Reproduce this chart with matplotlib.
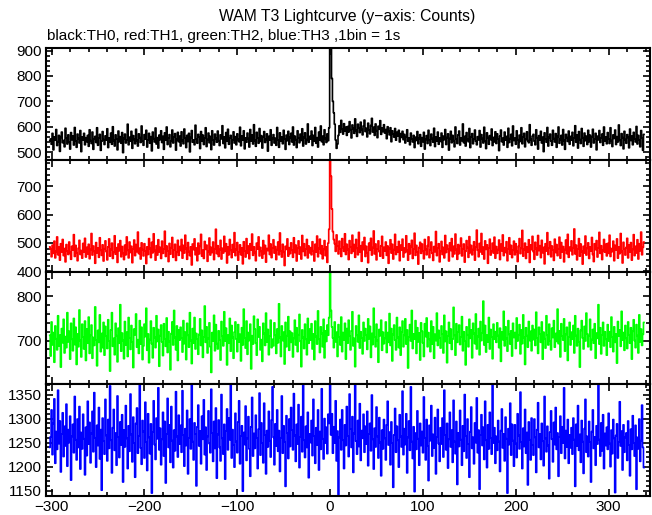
import numpy as np
import matplotlib
matplotlib.use("Agg")
import matplotlib.pyplot as plt
from matplotlib.ticker import MultipleLocator

# time bins (1 s), t = -302 .. 338
t_start, t_stop = -302, 339

# TH0 counts (black)
th0 = [
    544,
    552, 531, 574, 509, 560, 547, 589, 526, 541, 566, 503, 558, 579, 537, 546, 521, 594, 555, 532, 568,
    540, 512, 577, 549, 563, 528, 597, 544, 519, 571, 553, 536, 585, 502, 560, 548, 574, 529, 557, 541,
    566, 523, 588, 545, 534, 579, 511, 551, 562, 538, 596, 527, 555, 570, 507, 543, 581, 549, 530, 564,
    547, 592, 518, 556, 539, 575, 531, 600, 546, 524, 568, 552, 509, 583, 541, 561, 535, 577, 498, 554,
    571, 536, 548, 610, 529, 559, 543, 582, 515, 565, 550, 533, 590, 546, 524, 572, 557, 538, 603, 544,
    527, 569, 551, 586, 520, 548, 574, 535, 561, 505, 579, 553, 540, 595, 532, 557, 516, 567, 549, 584,
    538, 562, 511, 576, 547, 599, 530, 555, 569, 521, 544, 587, 536, 559, 573, 508, 550, 578, 541, 563,
    524, 580, 546, 533, 591, 555, 518, 566, 542, 574, 501, 557, 585, 539, 548, 529, 606, 552, 535, 570,
    559, 514, 581, 543, 567, 530, 556, 596, 522, 549, 575, 537, 562, 510, 584, 547, 528, 571, 554, 539,
    583, 545, 526, 568, 552, 604, 534, 560, 517, 577, 543, 590, 531, 555, 566, 512, 548, 580, 536, 561,
    529, 572, 550, 541, 598, 525, 563, 547, 584, 513, 556, 539, 575, 553, 520, 589, 544, 567, 532, 608,
    546, 523, 578, 556, 535, 593, 542, 565, 516, 559, 581, 538, 550, 572, 504, 562, 547, 588, 527, 554,
    569, 536, 555, 527, 597, 548, 519, 576, 543, 560, 533, 586, 551, 511, 567, 545, 582, 530, 558, 574,
    540, 599, 528, 563, 549, 518, 584, 555, 537, 571, 546, 592, 524, 558, 576, 532, 549, 611, 539, 562,
    551, 583, 526, 566, 543, 597, 535, 557, 520, 579, 548, 603, 541, 563, 529, 588, 554, 538, 572, 545,
    596, 1020, 960, 790, 700, 655, 610, 548, 515, 532, 566, 604, 578, 625, 590, 571, 612, 583, 598, 566,
    601, 579, 620, 588, 556, 607, 593, 574, 631, 585, 562, 610, 596, 577, 618, 589, 568, 603, 626, 581,
    594, 560, 614, 587, 572, 605, 633, 579, 598, 566, 611, 584, 557, 602, 590, 624, 570, 595, 581, 608,
    575, 589, 553, 600, 582, 568, 596, 541, 584, 571, 559, 593, 547, 578, 564, 586, 540, 573, 558, 582,
    549, 570, 536, 561, 588, 543, 556, 529, 575, 552, 540, 566, 518, 559, 546, 581, 533, 554, 569, 523,
    557, 541, 578, 512, 550, 565, 534, 586, 547, 526, 571, 553, 539, 594, 522, 560, 544, 579, 531, 556,
    542, 575, 519, 563, 549, 589, 530, 557, 572, 508, 553, 582, 537, 566, 545, 521, 599, 551, 534, 568,
    583, 528, 556, 545, 611, 537, 562, 524, 577, 550, 541, 593, 518, 560, 573, 533, 552, 587, 543, 529,
    561, 548, 585, 520, 569, 553, 536, 598, 544, 514, 576, 557, 531, 565, 549, 591, 526, 558, 540, 580,
    534, 572, 551, 506, 563, 587, 541, 555, 528, 579, 547, 562, 519, 594, 538, 553, 570, 525, 603, 546,
    555, 531, 584, 549, 517, 567, 542, 596, 533, 560, 574, 521, 552, 580, 545, 537, 608, 550, 527, 563,
    570, 543, 529, 588, 556, 512, 565, 548, 582, 536, 559, 502, 576, 551, 539, 597, 524, 558, 571, 544,
    527, 586, 553, 540, 573, 519, 561, 599, 535, 550, 566, 528, 589, 546, 511, 570, 557, 542, 583, 531,
    562, 547, 578, 525, 555, 604, 539, 568, 516, 581, 549, 534, 593, 557, 523, 575, 545, 563, 530, 586,
    541, 567, 520, 559, 590, 536, 552, 574, 509, 563, 548, 585, 538, 556, 571, 527, 599, 544, 560, 533,
    577, 551, 534, 596, 545, 522, 568, 554, 587, 530, 561, 540, 607, 548, 526, 573, 557, 513, 582, 549,
    535, 569, 558, 517, 591, 546, 563, 529, 578, 552, 540, 601, 532, 566, 548, 521, 585, 556, 507, 570,
]

# TH1 counts (red)
th1 = [
    486,
    478, 451, 492, 463, 506, 447, 470, 521, 458, 485, 439, 497, 468, 512, 455, 480, 433, 494, 471, 459,
    503, 466, 442, 488, 475, 529, 452, 491, 464, 437, 481, 509, 459, 473, 446, 498, 467, 516, 450, 484,
    461, 495, 444, 476, 533, 457, 489, 470, 428, 501, 465, 482, 449, 518, 474, 456, 493, 436, 479, 507,
    469, 440, 486, 514, 453, 477, 499, 445, 468, 525, 460, 483, 431, 496, 472, 508, 451, 487, 463, 441,
    492, 458, 521, 474, 447, 503, 466, 488, 430, 479, 510, 455, 494, 469, 538, 462, 481, 443, 500, 476,
    454, 497, 471, 427, 486, 459, 515, 480, 448, 502, 465, 532, 473, 439, 490, 457, 511, 468, 484, 445,
    506, 463, 478, 541, 452, 489, 471, 434, 498, 460, 483, 519, 449, 475, 495, 438, 467, 509, 456, 487,
    473, 512, 446, 491, 464, 527, 480, 442, 501, 469, 455, 486, 422, 496, 476, 514, 458, 482, 437, 499,
    461, 488, 530, 453, 474, 445, 505, 477, 492, 435, 470, 517, 457, 484, 466, 503, 441, 479, 548, 462,
    490, 452, 476, 509, 443, 481, 464, 523, 470, 497, 429, 485, 458, 512, 474, 448, 494, 467, 536, 455,
    477, 501, 439, 468, 493, 458, 482, 426, 504, 472, 450, 515, 463, 489, 444, 497, 475, 531, 456, 486,
    466, 437, 499, 478, 521, 454, 484, 470, 446, 508, 462, 491, 432, 480, 473, 527, 459, 496, 448, 482,
    511, 464, 487, 441, 476, 503, 458, 535, 471, 450, 495, 467, 420, 488, 477, 514, 453, 483, 462, 500,
    474, 449, 518, 466, 492, 436, 481, 507, 460, 485, 443, 526, 470, 497, 455, 478, 512, 447, 489, 465,
    483, 458, 504, 472, 436, 495, 468, 524, 451, 480, 513, 462, 490, 444, 477, 508, 455, 486, 431, 499,
    548, 900, 735, 620, 540, 512, 497, 470, 528, 489, 461, 506, 478, 452, 515, 484, 470, 532, 459, 495,
    477, 441, 508, 486, 463, 527, 470, 494, 449, 512, 481, 458, 537, 467, 490, 435, 503, 476, 519, 452,
    488, 465, 430, 499, 474, 516, 457, 483, 542, 461, 496, 440, 478, 507, 469, 453, 490, 523, 446, 484,
    471, 503, 456, 489, 428, 480, 511, 464, 495, 443, 476, 530, 459, 486, 467, 505, 437, 492, 474, 513,
    450, 482, 466, 525, 473, 439, 497, 461, 487, 509, 445, 478, 534, 456, 491, 468, 425, 484, 502, 463,
    496, 471, 444, 512, 477, 458, 490, 521, 448, 475, 503, 463, 438, 487, 469, 540, 455, 481, 497, 433,
    470, 505, 459, 484, 447, 526, 466, 492, 478, 436, 500, 473, 515, 451, 488, 461, 531, 476, 442, 494,
    462, 489, 517, 454, 479, 496, 432, 470, 508, 483, 449, 522, 465, 491, 458, 476, 504, 439, 486, 545,
    474, 451, 498, 468, 533, 460, 485, 443, 507, 477, 493, 428, 482, 513, 457, 470, 499, 464, 520, 446,
    487, 463, 476, 510, 441, 495, 472, 528, 455, 483, 466, 504, 437, 479, 518, 460, 491, 448, 474, 506,
    458, 497, 470, 434, 488, 515, 462, 481, 544, 453, 477, 499, 445, 486, 467, 511, 431, 493, 476, 523,
    469, 442, 502, 480, 457, 526, 473, 490, 448, 509, 465, 484, 426, 497, 471, 536, 459, 482, 504, 451,
    489, 475, 438, 513, 466, 494, 455, 479, 520, 446, 501, 468, 487, 433, 476, 510, 462, 530, 449, 485,
    472, 507, 458, 483, 549, 461, 492, 440, 478, 515, 453, 496, 470, 425, 488, 464, 524, 457, 481, 500,
    445, 486, 471, 519, 459, 434, 497, 476, 508, 450, 482, 537, 463, 490, 441, 473, 512, 467, 495, 454,
    498, 463, 527, 452, 480, 469, 506, 437, 491, 475, 514, 446, 485, 462, 533, 470, 429, 502, 478, 457,
    484, 516, 447, 493, 468, 501, 439, 477, 529, 455, 488, 464, 511, 443, 497, 472, 538, 458, 484, 503,
]

# TH2 counts (green)
th2 = [
    712,
    665, 742, 690, 718, 651, 733, 704, 679, 756, 688, 712, 640, 727, 695, 748, 672, 709, 684, 763, 697,
    721, 658, 739, 703, 677, 750, 691, 730, 646, 715, 686, 769, 700, 663, 737, 708, 681, 744, 655, 726,
    694, 753, 671, 712, 735, 660, 707, 689, 776, 701, 643, 723, 696, 758, 675, 716, 684, 741, 667, 732,
    710, 682, 747, 699, 631, 724, 763, 687, 705, 668, 739, 711, 652, 728, 694, 781, 676, 717, 700, 659,
    743, 690, 719, 664, 752, 706, 680, 734, 697, 639, 726, 713, 760, 685, 702, 671, 745, 692, 730, 657,
    688, 737, 709, 773, 678, 715, 650, 702, 744, 693, 661, 729, 707, 684, 756, 698, 725, 642, 711, 735,
    697, 666, 738, 704, 687, 751, 673, 720, 698, 634, 716, 742, 690, 768, 707, 679, 733, 655, 724, 701,
    730, 706, 674, 745, 693, 719, 657, 739, 712, 685, 763, 700, 648, 727, 694, 752, 681, 716, 703, 669,
    714, 749, 689, 723, 662, 708, 778, 696, 731, 672, 705, 740, 686, 628, 718, 699, 757, 677, 736, 693,
    681, 722, 701, 656, 743, 710, 688, 765, 699, 728, 645, 712, 694, 750, 676, 734, 707, 660, 719, 742,
    703, 675, 736, 697, 714, 654, 729, 690, 771, 706, 683, 744, 669, 718, 700, 737, 636, 711, 692, 755,
    726, 694, 667, 748, 708, 731, 679, 702, 653, 739, 716, 689, 762, 697, 725, 668, 710, 746, 684, 703,
    688, 740, 712, 671, 726, 695, 783, 707, 664, 733, 700, 719, 647, 741, 686, 711, 754, 678, 721, 696,
    717, 663, 705, 746, 690, 729, 675, 713, 759, 698, 641, 724, 707, 682, 737, 703, 668, 750, 694, 726,
    701, 738, 681, 715, 657, 744, 709, 692, 767, 703, 673, 731, 716, 686, 748, 661, 722, 698, 735, 712,
    752, 885, 768, 731, 706, 684, 742, 697, 719, 664, 736, 708, 690, 753, 675, 718, 701, 739, 658, 727,
    694, 746, 710, 679, 722, 765, 688, 705, 641, 733, 712, 697, 757, 683, 720, 706, 670, 741, 699, 727,
    713, 680, 749, 704, 732, 662, 716, 691, 773, 708, 686, 737, 700, 651, 725, 711, 746, 678, 719, 693,
    705, 742, 673, 718, 696, 761, 689, 727, 654, 714, 735, 701, 679, 752, 707, 684, 730, 667, 719, 744,
    686, 712, 749, 692, 724, 638, 708, 736, 699, 768, 682, 715, 703, 745, 671, 729, 697, 717, 656, 740,
    721, 695, 664, 738, 709, 751, 686, 718, 703, 675, 744, 692, 731, 660, 714, 700, 762, 689, 723, 706,
    683, 733, 715, 672, 757, 698, 721, 650, 710, 741, 694, 726, 680, 703, 775, 712, 667, 738, 696, 719,
    735, 691, 708, 754, 677, 720, 699, 645, 731, 713, 686, 748, 705, 724, 661, 739, 716, 693, 760, 681,
    709, 727, 668, 743, 700, 717, 789, 690, 734, 674, 712, 697, 752, 681, 725, 708, 659, 737, 703, 720,
    696, 740, 711, 684, 728, 653, 719, 702, 766, 688, 731, 705, 676, 745, 714, 692, 722, 665, 739, 707,
    718, 682, 751, 699, 713, 736, 670, 724, 693, 758, 707, 646, 729, 711, 685, 743, 700, 721, 677, 734,
    702, 725, 689, 764, 706, 671, 730, 715, 696, 742, 658, 719, 704, 683, 756, 712, 690, 737, 699, 679,
    728, 707, 745, 685, 716, 698, 771, 693, 722, 663, 738, 710, 701, 749, 676, 714, 730, 655, 708, 741,
    690, 719, 703, 734, 672, 756, 711, 688, 727, 697, 640, 723, 745, 706, 681, 732, 699, 762, 715, 686,
    711, 748, 679, 702, 725, 694, 738, 660, 717, 705, 781, 692, 729, 670, 713, 741, 688, 720, 703, 667,
    736, 699, 720, 685, 753, 708, 675, 731, 696, 715, 649, 743, 710, 724, 687, 766, 701, 718, 678, 734,
    705, 682, 742, 713, 694, 729, 658, 721, 747, 700, 684, 736, 711, 672, 758, 697, 726, 689, 714, 741,
]

# TH3 counts (blue)
th3 = [
    1240,
    1262, 1318, 1225, 1290, 1341, 1207, 1273, 1236, 1359, 1248, 1295, 1189, 1268, 1312, 1221, 1284, 1243, 1330, 1201, 1277,
    1250, 1305, 1172, 1263, 1288, 1229, 1346, 1256, 1214, 1299, 1240, 1325, 1195, 1271, 1237, 1309, 1258, 1183, 1282, 1223,
    1336, 1247, 1292, 1208, 1269, 1315, 1231, 1354, 1260, 1199, 1286, 1244, 1323, 1216, 1277, 1151, 1301, 1253, 1226, 1340,
    1265, 1212, 1298, 1238, 1368, 1255, 1187, 1281, 1319, 1234, 1270, 1203, 1347, 1262, 1219, 1293, 1245, 1308, 1168, 1276,
    1241, 1327, 1259, 1196, 1285, 1232, 1351, 1267, 1210, 1303, 1249, 1178, 1290, 1322, 1228, 1264, 1380, 1239, 1205, 1296,
    1273, 1218, 1334, 1251, 1192, 1310, 1261, 1227, 1289, 1145, 1272, 1337, 1246, 1215, 1301, 1258, 1364, 1235, 1280, 1204,
    1257, 1313, 1222, 1294, 1166, 1268, 1342, 1240, 1287, 1209, 1325, 1254, 1198, 1276, 1233, 1356, 1263, 1220, 1307, 1247,
    1286, 1230, 1358, 1266, 1201, 1279, 1244, 1317, 1185, 1260, 1299, 1237, 1373, 1252, 1214, 1291, 1268, 1160, 1283, 1328,
    1243, 1274, 1206, 1305, 1257, 1339, 1225, 1282, 1193, 1263, 1316, 1248, 1229, 1361, 1270, 1211, 1294, 1238, 1322, 1176,
    1267, 1297, 1240, 1212, 1350, 1259, 1226, 1288, 1174, 1274, 1320, 1235, 1301, 1256, 1380, 1218, 1277, 1245, 1199, 1311,
    1252, 1229, 1293, 1337, 1206, 1264, 1285, 1149, 1271, 1246, 1326, 1213, 1259, 1304, 1237, 1180, 1283, 1344, 1222, 1269,
    1238, 1307, 1260, 1196, 1278, 1353, 1224, 1291, 1249, 1208, 1332, 1266, 1185, 1275, 1241, 1315, 1254, 1220, 1297, 1366,
    1261, 1204, 1289, 1243, 1318, 1232, 1275, 1190, 1260, 1347, 1228, 1285, 1251, 1159, 1306, 1270, 1217, 1299, 1242, 1323,
    1276, 1235, 1352, 1265, 1211, 1288, 1247, 1329, 1198, 1262, 1304, 1231, 1374, 1255, 1219, 1284, 1240, 1313, 1177, 1268,
    1250, 1296, 1223, 1340, 1264, 1207, 1281, 1245, 1318, 1193, 1273, 1236, 1362, 1258, 1216, 1300, 1249, 1282, 1227, 1309,
    1290, 1371, 1266, 1310, 1228, 1283, 1249, 1337, 1212, 1274, 1142, 1261, 1298, 1235, 1318, 1255, 1196, 1287, 1244, 1325,
    1264, 1221, 1351, 1278, 1240, 1304, 1188, 1269, 1380, 1253, 1226, 1296, 1242, 1331, 1213, 1275, 1259, 1309, 1230, 1284,
    1247, 1315, 1202, 1268, 1290, 1233, 1349, 1257, 1195, 1280, 1241, 1324, 1263, 1218, 1302, 1250, 1181, 1276, 1237, 1298,
    1259, 1214, 1287, 1336, 1245, 1272, 1204, 1293, 1249, 1157, 1266, 1321, 1230, 1284, 1255, 1199, 1308, 1263, 1241, 1357,
    1225, 1279, 1246, 1310, 1187, 1261, 1295, 1234, 1366, 1252, 1217, 1283, 1148, 1270, 1236, 1316, 1258, 1203, 1290, 1244,
    1273, 1229, 1345, 1260, 1214, 1298, 1243, 1171, 1286, 1254, 1327, 1222, 1267, 1239, 1302, 1185, 1262, 1319, 1248, 1211,
    1281, 1247, 1301, 1220, 1359, 1266, 1235, 1290, 1197, 1257, 1313, 1241, 1276, 1209, 1338, 1252, 1227, 1294, 1163, 1270,
    1242, 1317, 1256, 1203, 1285, 1232, 1350, 1264, 1218, 1299, 1247, 1178, 1273, 1324, 1238, 1261, 1206, 1291, 1250, 1343,
    1229, 1276, 1153, 1266, 1308, 1244, 1282, 1215, 1336, 1255, 1198, 1287, 1237, 1313, 1260, 1226, 1371, 1249, 1281, 1207,
    1263, 1234, 1296, 1252, 1190, 1275, 1320, 1239, 1268, 1212, 1303, 1258, 1145, 1279, 1246, 1332, 1224, 1288, 1254, 1201,
    1287, 1248, 1219, 1310, 1265, 1237, 1355, 1251, 1196, 1280, 1242, 1319, 1228, 1271, 1162, 1293, 1256, 1214, 1301, 1245,
    1224, 1299, 1261, 1188, 1277, 1333, 1240, 1268, 1215, 1290, 1253, 1202, 1346, 1259, 1231, 1284, 1244, 1175, 1272, 1316,
    1257, 1210, 1292, 1246, 1323, 1236, 1270, 1180, 1262, 1305, 1228, 1283, 1249, 1364, 1217, 1275, 1241, 1298, 1207, 1266,
    1239, 1281, 1226, 1301, 1256, 1159, 1288, 1243, 1327, 1234, 1267, 1209, 1296, 1252, 1186, 1279, 1340, 1230, 1263, 1221,
    1294, 1251, 1168, 1273, 1318, 1238, 1262, 1203, 1285, 1247, 1376, 1256, 1222, 1291, 1233, 1308, 1196, 1269, 1244, 1282,
    1236, 1311, 1248, 1200, 1276, 1227, 1298, 1259, 1146, 1265, 1289, 1218, 1251, 1335, 1243, 1274, 1193, 1287, 1230, 1261,
    1270, 1213, 1295, 1245, 1181, 1278, 1236, 1306, 1249, 1222, 1286, 1153, 1261, 1237, 1299, 1211, 1254, 1328, 1240, 1198,
]

series = [th0, th1, th2, th3]
colors = ["black", "#ff0000", "#00ff00", "#0000ff"]
ylims = [(471, 912), (399, 794), (603, 856), (1140, 1373)]
ymajor = [100, 100, 100, 50]
yminor = [20, 20, 20, 10]

plt.rcParams["font.family"] = ["Liberation Sans", "DejaVu Sans"]

W, H = 652, 515
fig = plt.figure(figsize=(W / 100, H / 100), dpi=100)

t = np.arange(t_start, t_stop)
left, right = 46 / W, 649.5 / W
edges = [47.5, 159.5, 271.5, 383.5, 495.5]

for i, (vals, col) in enumerate(zip(series, colors)):
    top_px, bot_px = edges[i], edges[i + 1]
    ax = fig.add_axes([left, 1 - bot_px / H, right - left, (bot_px - top_px) / H])
    ax.plot(t, vals, color=col, lw=1.2, drawstyle="steps-mid")
    ax.set_xlim(-306, 344)
    ax.set_ylim(*ylims[i])
    ax.xaxis.set_major_locator(MultipleLocator(100))
    ax.xaxis.set_minor_locator(MultipleLocator(20))
    ax.yaxis.set_major_locator(MultipleLocator(ymajor[i]))
    ax.yaxis.set_minor_locator(MultipleLocator(yminor[i]))
    ax.tick_params(which="both", direction="in", top=True, right=True,
                   width=1.2, labelsize=11, pad=3, colors="black")
    ax.tick_params(which="major", length=5)
    ax.tick_params(which="minor", length=3)
    if i < 3:
        ax.tick_params(labelbottom=False)
    for s in ax.spines.values():
        s.set_linewidth(1.5)

fig.text(347 / W, 1 - 17 / H, "WAM T3 Lightcurve (y\u2212axis: Counts)",
         ha="center", va="center", fontsize=11.3)
fig.text(47 / W, 1 - 36 / H, "black:TH0, red:TH1, green:TH2, blue:TH3 ,1bin = 1s",
         ha="left", va="center", fontsize=11)

fig.savefig("out.png", dpi=100)
